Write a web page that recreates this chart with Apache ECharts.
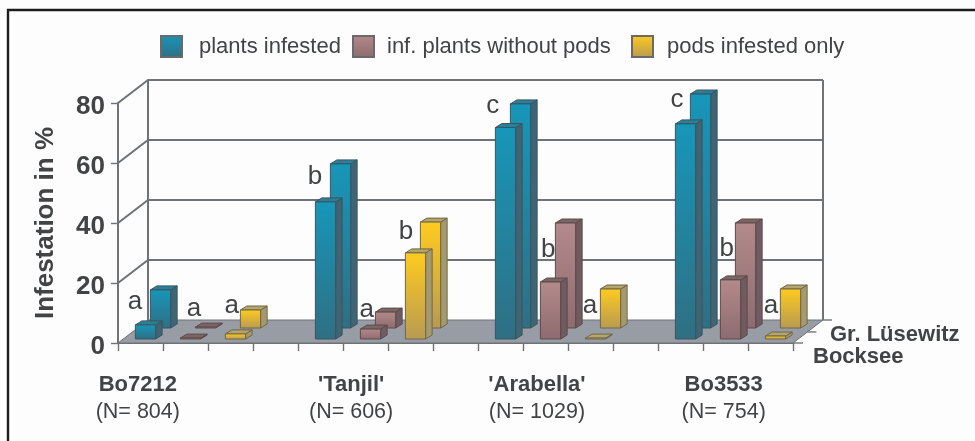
<!DOCTYPE html>
<html>
<head>
<meta charset="utf-8">
<title>Infestation in %</title>
<script src="https://cdn.jsdelivr.net/npm/echarts@6/dist/echarts.min.js"></script>
<style>
  html, body { margin: 0; padding: 0; background: #fff; }
  #chart { width: 975px; height: 441px; }
</style>
</head>
<body>
<div id="chart"></div>
<script>
const lines = ["Bo7212", "'Tanjil'", "'Arabella'", "Bo3533"];
const lineCounts = ["(N= 804)", "(N= 606)", "(N= 1029)", "(N= 754)"];
const measures = ["plants infested", "inf. plants without pods", "pods infested only"];
const sites = ["Bocksee", "Gr. Lüsewitz"];
const yTicks = [0, 20, 40, 60, 80];

// Bocksee = front row, Gr. Lüsewitz = back row
const infestedBocksee = [4.7, 45.7, 70.5, 71.7];
const infestedLusewitz = [12.7, 54.7, 74.7, 78];
const noPodsBocksee = [0.3, 3.3, 19, 19.7];
const noPodsLusewitz = [0.3, 5.3, 35, 35];
const podsBocksee = [1.7, 28.7, 0.3, 1];
const podsLusewitz = [6, 35.3, 13, 13];

// significance letters: [slot on the x axis, level in %, letter]
const sigLetters = [
  [0.38, 13.7, "a"], [1.69, 11.3, "a"], [2.53, 12.3, "a"],
  [4.38, 55.3, "b"], [5.53, 11, "a"], [6.4, 37, "b"],
  [8.33, 79, "c"], [9.56, 31, "b"], [10.49, 12.3, "a"],
  [12.42, 81, "c"], [13.53, 31.3, "b"], [14.51, 12.3, "a"]
];
// where the line captions sit on the x axis
const lineSlots = [0.44, 5.18, 9.31, 13.46];

const SLOTS = 15;
const DEPTH = [30, -23]; // floor depth in px
const ROW_SHIFT = [[5, -4], [20, -15]];
const BAR_DEPTH = [6.5, -4];
const WALL = "#6f7376";
const INK = "#414345";

const palette = [
  { top: "#2a7f99", side: "#3f6473", from: "#1796b9", to: "#2f6f83", line: "#3b5560" },
  { top: "#7c6663", side: "#705c60", from: "#b48a8c", to: "#8d6b6e", line: "#5c4a4c" },
  { top: "#b3a56c", side: "#a59a6e", from: "#ffcb1f", to: "#b89a52", line: "#6f6748" }
];

function grad(p) {
  return new echarts.graphic.LinearGradient(0, 0, 0, 1, [
    { offset: 0, color: p.from }, { offset: 1, color: p.to }
  ]);
}

function barSeries(m, front, back) {
  const data = [];
  back.forEach((v, i) => data.push([i * 4 + m + 0.5, v, 1]));
  front.forEach((v, i) => data.push([i * 4 + m + 0.5, v, 0]));
  const p = palette[m];
  return {
    name: measures[m],
    type: "custom",
    z: 5,
    itemStyle: { color: p.from },
    data: data,
    encode: { x: 0, y: 1 },
    renderItem(params, api) {
      const pos = api.coord([api.value(0), 0]);
      const topY = api.coord([0, api.value(1)])[1];
      const shift = ROW_SHIFT[api.value(2)];
      const w = api.size([0.45, 0])[0];
      const x0 = pos[0] + shift[0] - w / 2;
      const x1 = x0 + w;
      const yb = pos[1] + shift[1];
      const yt = topY + shift[1];
      const dx = BAR_DEPTH[0], dy = BAR_DEPTH[1];
      const stroke = { stroke: p.line, lineWidth: 1 };
      return {
        type: "group",
        children: [
          { type: "polygon", shape: { points: [[x1, yb], [x1 + dx, yb + dy], [x1 + dx, yt + dy], [x1, yt]] },
            style: Object.assign({ fill: p.side }, stroke) },
          { type: "polygon", shape: { points: [[x0, yt], [x1, yt], [x1 + dx, yt + dy], [x0 + dx, yt + dy]] },
            style: Object.assign({ fill: p.top }, stroke) },
          { type: "rect", shape: { x: x0, y: yt, width: w, height: yb - yt },
            style: Object.assign({ fill: grad(p) }, stroke) }
        ]
      };
    }
  };
}

const wallSeries = {
  type: "custom",
  silent: true,
  z: 1,
  data: yTicks.map(v => [v]),
  encode: { y: 0 },
  renderItem(params, api) {
    const v = api.value(0);
    const a = api.coord([0, v]);
    const b = api.coord([SLOTS, v]);
    const line = { stroke: WALL, lineWidth: 2, fill: "none" };
    const kids = [];
    // tick label, sits a little below its tick like the original
    kids.push({ type: "text", x: a[0] - 13, y: a[1] + 4,
      style: { text: String(v), fill: INK, font: "bold 26px 'Liberation Sans'", align: "right", verticalAlign: "middle" } });
    if (v === 0) {
      // floor
      kids.push({ type: "polygon",
        shape: { points: [a, b, [b[0] + DEPTH[0], b[1] + DEPTH[1]], [a[0] + DEPTH[0], a[1] + DEPTH[1]]] },
        style: { fill: "#989da5", stroke: WALL, lineWidth: 1 } });
      const top = api.coord([0, yTicks[yTicks.length - 1]]);
      const topR = api.coord([SLOTS, yTicks[yTicks.length - 1]]);
      kids.push({ type: "polyline",
        shape: { points: [[a[0] + DEPTH[0], a[1] + DEPTH[1]], [top[0] + DEPTH[0], top[1] + DEPTH[1]]] }, style: line });
      kids.push({ type: "polyline",
        shape: { points: [[b[0] + DEPTH[0], b[1] + DEPTH[1]], [topR[0] + DEPTH[0], topR[1] + DEPTH[1]]] }, style: line });
      // site ticks on the right edge of the floor
      [[0, 10], [0.48, 9], [1, 9]].forEach(t => {
        const x = b[0] + DEPTH[0] * t[0], y = b[1] + DEPTH[1] * t[0];
        kids.push({ type: "line", shape: { x1: x, y1: y, x2: x + t[1], y2: y }, style: { stroke: WALL, lineWidth: 1.4 } });
      });
    } else {
      kids.push({ type: "polyline",
        shape: { points: [a, [a[0] + DEPTH[0], a[1] + DEPTH[1]], [b[0] + DEPTH[0], b[1] + DEPTH[1]]] }, style: line });
    }
    return { type: "group", children: kids };
  }
};

const letterSeries = {
  type: "custom",
  silent: true,
  z: 6,
  data: sigLetters,
  encode: { x: 0, y: 1 },
  renderItem(params, api) {
    const p = api.coord([api.value(0), api.value(1)]);
    return { type: "text", x: p[0], y: p[1],
      style: { text: sigLetters[params.dataIndex][2], fill: INK, font: "26px 'Liberation Sans'", align: "center", verticalAlign: "middle" } };
  }
};

const captionSeries = {
  type: "custom",
  silent: true,
  z: 6,
  data: lineSlots.map(s => [s, 0]),
  encode: { x: 0, y: 1 },
  renderItem(params, api) {
    const p = api.coord([api.value(0), 0]);
    const i = params.dataIndex;
    return { type: "group", children: [
      { type: "text", x: p[0], y: p[1] + 42,
        style: { text: lines[i], fill: INK, font: "bold 22px 'Liberation Sans'", align: "center", verticalAlign: "middle" } },
      { type: "text", x: p[0], y: p[1] + 69,
        style: { text: lineCounts[i], fill: INK, font: "21.5px 'Liberation Sans'", align: "center", verticalAlign: "middle" } }
    ] };
  }
};

const siteSeries = {
  type: "custom",
  silent: true,
  z: 6,
  data: sites.map((s, i) => [SLOTS, i]),
  encode: { x: 0 },
  renderItem(params, api) {
    const p = api.coord([SLOTS, 0]);
    const i = params.dataIndex;
    return { type: "text", x: p[0] + (i ? 37 : 20), y: p[1] + (i ? -8 : 14),
      style: { text: sites[i], fill: INK, font: "bold 22px 'Liberation Sans'", align: "left", verticalAlign: "middle" } };
  }
};

const legendLeft = [160, 352, 631];
const legendGapText = [17, 13, 14];

const chart = echarts.init(document.getElementById("chart"), null, { renderer: "canvas" });
chart.setOption({
  animation: false,
  backgroundColor: "#fdfdfd",
  graphic: [
    { type: "rect", silent: true, shape: { x: 8, y: 10, width: 975, height: 460 },
      style: { fill: "none", stroke: "#1e1c1c", lineWidth: 2.4 } }
  ],
  legend: measures.map((name, i) => ({
    left: legendLeft[i],
    top: 35,
    data: [{ name: name, icon: "rect", itemStyle: { color: grad(palette[i]), borderColor: "#6a6a6a", borderWidth: 2 } }],
    itemWidth: 21,
    itemHeight: 21,
    itemGap: 0,
    selectedMode: false,
    padding: 0,
    textStyle: { fontFamily: "Liberation Sans", fontSize: 22, color: INK, padding: [0, 0, 0, legendGapText[i] - 5] }
  })),
  grid: { left: 118, right: 182, top: 103, bottom: 98 },
  xAxis: {
    type: "value",
    min: 0,
    max: SLOTS,
    interval: 1,
    axisLine: { onZero: false, lineStyle: { color: WALL, width: 2 } },
    axisTick: { show: true, length: 8, lineStyle: { color: WALL, width: 1.4 } },
    axisLabel: { show: false },
    splitLine: { show: false }
  },
  yAxis: {
    type: "value",
    min: 0,
    max: 80,
    interval: 20,
    name: "Infestation in %",
    nameLocation: "middle",
    nameGap: 59,
    nameTextStyle: { fontFamily: "Liberation Sans", fontWeight: "bold", fontSize: 26, color: INK },
    axisLine: { show: true, lineStyle: { color: WALL, width: 2 } },
    axisTick: { show: true, length: 7, lineStyle: { color: WALL, width: 1.4 } },
    axisLabel: { show: false },
    splitLine: { show: false }
  },
  series: [
    wallSeries,
    barSeries(0, infestedBocksee, infestedLusewitz),
    barSeries(1, noPodsBocksee, noPodsLusewitz),
    barSeries(2, podsBocksee, podsLusewitz),
    letterSeries,
    captionSeries,
    siteSeries
  ]
});
</script>
</body>
</html>
